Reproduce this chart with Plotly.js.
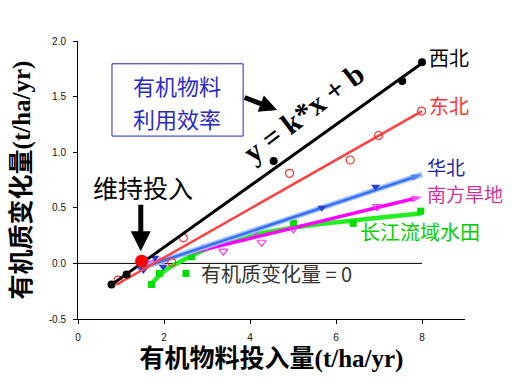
<!DOCTYPE html>
<html><head><meta charset="utf-8">
<script src="https://cdn.plot.ly/plotly-3.0.1.min.js"></script>
<style>html,body{margin:0;padding:0;background:#fff;}#chart{width:527px;height:392px;}</style>
</head><body><div id="chart"></div>
<script>
// ---- data ----
const xiBeiX = [0.78, 1.13, 4.55, 7.54, 8.0];
const xiBeiY = [-0.19, -0.10, 0.92, 1.64, 1.81];
const xiBeiLineX = [0.75, 8.0];
const xiBeiLineY = [-0.20, 1.80];

const dongBeiX = [0.93, 2.18, 2.45, 4.92, 6.33, 6.99, 7.99];
const dongBeiY = [-0.15, 0.01, 0.23, 0.81, 0.93, 1.15, 1.37];
const dongBeiLineX = [0.9, 8.0];
const dongBeiLineY = [-0.19, 1.37];

const huaBeiX = [1.52, 1.79, 1.98, 5.67, 6.92];
const huaBeiY = [-0.06, 0.05, -0.03, 0.50, 0.69];
const huaBeiLineX = [1.4, 8.0];
const huaBeiLineY = [-0.05, 0.80];

const nanFangX = [1.65, 2.0, 2.99, 3.38, 4.12, 4.27, 5.01, 6.96];
const nanFangY = [0.0, 0.03, 0.15, 0.11, 0.29, 0.19, 0.31, 0.51];
const nanFangLineX = [1.5, 8.0];
const nanFangLineY = [-0.01, 0.60];

const changJiangX = [1.71, 1.89, 2.51, 2.64, 5.01, 6.4, 7.97];
const changJiangY = [-0.19, -0.09, -0.09, 0.06, 0.36, 0.36, 0.47];
const changJiangLineX = [1.7, 2.0, 2.5, 3.0, 4.0, 5.0, 6.0, 7.0, 8.0];
const changJiangLineY = [-0.19, -0.07, 0.04, 0.13, 0.25, 0.32, 0.37, 0.41, 0.45];

const keepX = [1.48];
const keepY = [0.02];

const zeroLineX = [0, 8];
const zeroLineY = [0, 0];

const xTicks = [0, 2, 4, 6, 8];
const yTicks = [-0.5, 0.0, 0.5, 1.0, 1.5, 2.0];

const xTitle = '有机物料投入量(t/ha/yr)';
const yTitle = '有机质变化量(t/ha/yr)';
const boxLines = ['有机物料', '利用效率'];

// ---- traces ----
const traces = [
  {x: zeroLineX, y: zeroLineY, mode: 'lines', line: {color: '#000', width: 1}, hoverinfo: 'skip'},
  // 长江流域水田
  {x: changJiangLineX, y: changJiangLineY, mode: 'lines', line: {color: '#22ee22', width: 4.5, shape: 'spline'}},
  {x: changJiangX, y: changJiangY, mode: 'markers', marker: {symbol: 'square', size: 7, color: '#00e000'}},
  // 南方旱地
  {x: nanFangLineX, y: nanFangLineY, mode: 'lines+markers', line: {color: '#ff00ff', width: 3.5},
   marker: {symbol: 'arrow', size: [0, 11], color: '#ff00ff', angleref: 'previous', line: {width: 0}}},
  {x: nanFangX, y: nanFangY, mode: 'markers', marker: {symbol: 'triangle-down-open', size: 8, color: '#ff33ff', line: {width: 1.2}}},
  // 华北
  {x: huaBeiLineX, y: huaBeiLineY, mode: 'lines', line: {color: '#9cc4ff', width: 5.5}},
  {x: huaBeiLineX, y: huaBeiLineY, mode: 'lines+markers', line: {color: '#3a6cf2', width: 2.5},
   marker: {symbol: 'arrow', size: [0, 11], color: '#3a6cf2', angleref: 'previous', line: {width: 0}}},
  {x: huaBeiX, y: huaBeiY, mode: 'markers', marker: {symbol: 'triangle-down', size: 8, color: '#2a3fd0'}},
  // 东北
  {x: dongBeiLineX, y: dongBeiLineY, mode: 'lines', line: {color: '#ff4040', width: 2.5}},
  {x: dongBeiX, y: dongBeiY, mode: 'markers', marker: {symbol: 'circle-open', size: 8, color: '#ff3030', line: {width: 1.2}}},
  // 西北
  {x: xiBeiLineX, y: xiBeiLineY, mode: 'lines', line: {color: '#000', width: 3}},
  {x: xiBeiX, y: xiBeiY, mode: 'markers', marker: {symbol: 'circle', size: 8, color: '#000'}},
  // 维持投入 point
  {x: keepX, y: keepY, mode: 'markers', marker: {symbol: 'circle', size: 13, color: '#ff0000'}}
];

const serifCJK = 'Liberation Serif, Noto Sans CJK SC, serif';
const sansCJK = 'Noto Sans CJK SC, sans-serif';

const annotations = [
  {x: 8.12, y: 1.85, xanchor: 'left', yanchor: 'middle', text: '西北', showarrow: false, font: {family: sansCJK, size: 20, color: '#000'}},
  {x: 8.12, y: 1.42, xanchor: 'left', yanchor: 'middle', text: '东北', showarrow: false, font: {family: sansCJK, size: 20, color: '#ff3333'}},
  {x: 8.07, y: 0.875, xanchor: 'left', yanchor: 'middle', text: '华北', showarrow: false, font: {family: sansCJK, size: 19, color: '#1f1fa8'}},
  {x: 8.07, y: 0.625, xanchor: 'left', yanchor: 'middle', text: '南方旱地', showarrow: false, font: {family: sansCJK, size: 19, color: '#cc3399'}},
  {x: 6.5, y: 0.285, xanchor: 'left', yanchor: 'middle', text: '长江流域水田', showarrow: false, font: {family: sansCJK, size: 20, color: '#00d000'}},
  {x: 2.82, y: -0.093, xanchor: 'left', yanchor: 'middle', text: '有机质变化量 = 0', showarrow: false, font: {family: sansCJK, size: 20, color: '#333'}},
  {x: 1.51, y: 0.69, xanchor: 'center', yanchor: 'middle', text: '维持投入', showarrow: false, font: {family: sansCJK, size: 25, color: '#000'}},
  {x: 2.31, y: 1.60, xanchor: 'center', yanchor: 'middle', text: boxLines[0], showarrow: false, borderpad: 0, font: {family: sansCJK, size: 22, color: '#2a2acc'}},
  {x: 2.31, y: 1.305, xanchor: 'center', yanchor: 'middle', text: boxLines[1], showarrow: false, borderpad: 0, font: {family: sansCJK, size: 22, color: '#2a2acc'}},
  {x: 5.25, y: 1.36, xanchor: 'center', yanchor: 'middle', text: '<b>y = k*x + b</b>', textangle: -37, showarrow: false,
   font: {family: 'Liberation Serif, serif', size: 30, color: '#000'}},
  // arrows
  {x: 1.46, y: 0.11, ax: 0, ay: -48, text: '', showarrow: true, arrowhead: 2, arrowsize: 0.8, arrowwidth: 5, arrowcolor: '#000'},
  {x: 4.63, y: 1.38, ax: -34, ay: -13, text: '', showarrow: true, arrowhead: 2, arrowsize: 0.7, arrowwidth: 5, arrowcolor: '#000'}
];

const layout = {
  width: 527, height: 392,
  margin: {l: 78, r: 62, t: 41, b: 73},
  paper_bgcolor: '#fff', plot_bgcolor: '#fff',
  showlegend: false,
  xaxis: {
    range: [0, 9], tickvals: xTicks, ticktext: xTicks.map(String),
    showline: true, linecolor: '#000', linewidth: 1, ticks: 'outside', ticklen: 4, tickcolor: '#000',
    showgrid: false, zeroline: false, ticklabelstandoff: 5,
    tickfont: {family: 'Liberation Sans, Arial, sans-serif', size: 10, color: '#111'},
    title: {text: '<b>' + xTitle + '</b>', standoff: 7, font: {family: serifCJK, size: 25, color: '#000'}}
  },
  yaxis: {
    range: [-0.5, 2.0], tickvals: yTicks, ticktext: yTicks.map(v => v.toFixed(1)),
    showline: true, linecolor: '#000', linewidth: 1, ticks: 'outside', ticklen: 4, tickcolor: '#000',
    showgrid: false, zeroline: false, ticklabelstandoff: 5,
    tickfont: {family: 'Liberation Sans, Arial, sans-serif', size: 10, color: '#111'},
    title: {text: '<b>' + yTitle + '</b>', standoff: 11, font: {family: serifCJK, size: 25, color: '#000'}}
  },
  shapes: [
    {type: 'rect', xref: 'x', yref: 'y', x0: 0.79, x1: 3.84, y0: 1.145, y1: 1.795,
     line: {color: '#2222cc', width: 1}, fillcolor: 'rgba(0,0,0,0)', layer: 'above'}
  ],
  annotations: annotations
};

Plotly.newPlot('chart', traces, layout, {staticPlot: true, displayModeBar: false});
</script></body></html>
